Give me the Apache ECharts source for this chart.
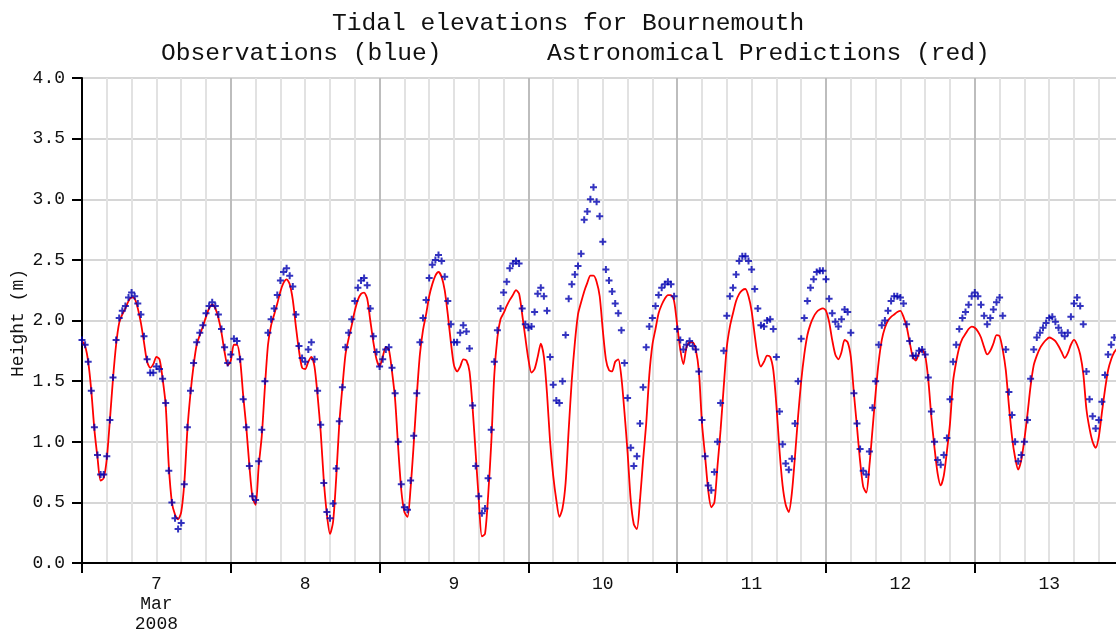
<!DOCTYPE html>
<html>
<head>
<meta charset="utf-8">
<script src="https://cdn.jsdelivr.net/npm/echarts@6/dist/echarts.min.js"></script>
<style>
html,body{margin:0;padding:0;background:#fff;overflow:hidden;}
#chart{width:1116px;height:635px;}
</style>
</head>
<body>
<div id="chart"></div>
<script>
// Hours are counted from 7 Mar 2008 00:00; both series are sampled every 30 minutes.
var stepHours = 0.5;
var dayLabels = ['7', '8', '9', '10', '11', '12', '13'];
var monthLabel = 'Mar';
var yearLabel = '2008';
var yTicks = [0, 0.5, 1, 1.5, 2, 2.5, 3, 3.5, 4];

// Observations (blue), 0h .. 166.5h
var observed = [
  1.84,1.80,1.66,1.42,1.12,0.89,0.73,0.73,0.88,1.18,1.53,1.84,2.02,2.08,2.12,2.19,2.23,2.20,2.14,2.05,1.87,1.68,1.57,1.57,
  1.62,1.60,1.52,1.32,0.76,0.50,0.37,0.28,0.33,0.65,1.12,1.42,1.65,1.82,1.90,1.96,2.06,2.12,2.15,2.12,2.05,1.93,1.78,1.65,
  1.72,1.85,1.83,1.68,1.35,1.12,0.80,0.55,0.52,0.84,1.10,1.50,1.90,2.01,2.10,2.21,2.33,2.40,2.43,2.37,2.28,2.05,1.79,1.69,
  1.66,1.76,1.82,1.68,1.42,1.14,0.66,0.42,0.37,0.49,0.78,1.17,1.45,1.78,1.90,2.01,2.16,2.27,2.33,2.35,2.29,2.10,1.87,1.74,
  1.62,1.68,1.76,1.78,1.61,1.40,1.00,0.65,0.46,0.44,0.68,1.05,1.40,1.82,2.02,2.17,2.35,2.46,2.50,2.54,2.49,2.36,2.16,1.97,
  1.82,1.82,1.90,1.96,1.91,1.77,1.30,0.80,0.55,0.41,0.45,0.70,1.10,1.66,1.92,2.10,2.23,2.32,2.43,2.47,2.49,2.47,2.10,1.97,
  1.94,1.95,2.07,2.22,2.27,2.20,2.08,1.70,1.47,1.34,1.32,1.50,1.88,2.18,2.30,2.38,2.45,2.55,2.83,2.90,3.00,3.10,2.98,2.86,
  2.65,2.42,2.33,2.24,2.14,2.06,1.92,1.65,1.36,0.95,0.80,0.88,1.15,1.45,1.78,1.95,2.02,2.12,2.21,2.27,2.30,2.32,2.30,2.20,
  1.93,1.84,1.76,1.80,1.83,1.79,1.76,1.58,1.18,0.88,0.64,0.60,0.75,1.00,1.32,1.75,2.04,2.20,2.27,2.38,2.49,2.53,2.53,2.49,
  2.42,2.26,2.10,1.96,1.95,2.00,2.01,1.93,1.70,1.25,0.98,0.82,0.77,0.86,1.15,1.50,1.85,2.02,2.16,2.27,2.34,2.40,2.41,2.41,
  2.34,2.18,2.06,1.99,1.95,2.01,2.09,2.07,1.90,1.40,1.15,0.94,0.76,0.73,0.92,1.28,1.50,1.80,1.96,2.00,2.08,2.16,2.20,2.20,
  2.19,2.14,1.97,1.83,1.71,1.71,1.75,1.76,1.72,1.53,1.25,1.00,0.85,0.81,0.89,1.03,1.35,1.66,1.80,1.93,2.02,2.07,2.13,2.20,
  2.23,2.20,2.13,2.04,1.97,2.02,2.09,2.15,2.19,2.04,1.76,1.41,1.22,1.00,0.84,0.89,1.00,1.18,1.52,1.76,1.86,1.90,1.94,1.98,
  2.02,2.03,1.99,1.94,1.90,1.87,1.90,2.03,2.14,2.19,2.12,1.97,1.58,1.35,1.21,1.11,1.18,1.33,1.55,1.72,1.80,1.86
];

// Astronomical predictions (red), 0h .. 167h
var predicted = [
  1.83,1.79,1.66,1.42,1.10,0.87,0.68,0.70,0.86,1.18,1.52,1.80,1.98,2.05,2.10,2.16,2.19,2.18,2.10,1.98,1.82,1.66,1.61,1.64,
  1.70,1.68,1.52,1.30,0.80,0.50,0.40,0.36,0.42,0.66,1.10,1.40,1.63,1.80,1.88,1.95,2.03,2.10,2.13,2.10,2.02,1.90,1.74,1.63,
  1.67,1.80,1.80,1.68,1.38,1.12,0.80,0.54,0.48,0.80,1.05,1.45,1.80,1.96,2.05,2.14,2.24,2.31,2.34,2.30,2.17,1.95,1.75,1.61,
  1.60,1.66,1.70,1.62,1.38,1.08,0.68,0.40,0.24,0.34,0.70,1.15,1.45,1.72,1.85,1.96,2.08,2.17,2.22,2.23,2.18,2.00,1.82,1.68,
  1.62,1.70,1.78,1.76,1.58,1.35,0.95,0.60,0.42,0.38,0.62,0.98,1.38,1.72,1.92,2.05,2.20,2.30,2.37,2.40,2.36,2.25,2.05,1.82,
  1.63,1.58,1.62,1.68,1.67,1.58,1.28,0.90,0.52,0.22,0.24,0.55,0.98,1.55,1.86,2.01,2.06,2.12,2.17,2.21,2.25,2.22,2.05,1.86,
  1.68,1.57,1.60,1.70,1.81,1.70,1.40,1.00,0.72,0.52,0.38,0.45,0.66,1.10,1.51,1.82,2.05,2.15,2.24,2.31,2.37,2.37,2.32,2.20,
  1.92,1.68,1.59,1.58,1.66,1.68,1.53,1.24,0.91,0.52,0.32,0.28,0.52,0.85,1.15,1.55,1.80,1.93,2.06,2.13,2.18,2.21,2.21,2.16,
  1.96,1.76,1.64,1.78,1.82,1.82,1.76,1.58,1.15,0.88,0.60,0.46,0.50,0.80,1.10,1.45,1.78,1.95,2.06,2.16,2.22,2.25,2.26,2.20,
  2.08,1.88,1.70,1.62,1.66,1.71,1.70,1.59,1.30,0.93,0.64,0.48,0.42,0.58,0.88,1.21,1.50,1.72,1.88,1.97,2.03,2.07,2.09,2.10,
  2.08,1.99,1.84,1.72,1.68,1.74,1.84,1.82,1.70,1.40,1.12,0.84,0.63,0.58,0.80,1.10,1.40,1.66,1.84,1.94,2.00,2.03,2.05,2.07,
  2.08,2.03,1.95,1.82,1.70,1.67,1.73,1.76,1.71,1.51,1.20,0.95,0.74,0.64,0.72,0.92,1.15,1.50,1.66,1.78,1.85,1.89,1.93,1.95,
  1.94,1.91,1.86,1.78,1.72,1.75,1.81,1.88,1.87,1.76,1.59,1.30,1.04,0.87,0.77,0.85,1.02,1.23,1.46,1.63,1.71,1.77,1.81,1.84,
  1.86,1.85,1.83,1.79,1.74,1.69,1.73,1.80,1.84,1.80,1.72,1.56,1.27,1.11,1.00,0.95,1.04,1.24,1.43,1.59,1.68,1.74,1.77
];

function toPairs(values) {
  return values.map(function (v, i) { return [i * stepHours, v]; });
}

var MONO = '"Liberation Mono", "DejaVu Sans Mono", monospace';
var chart = echarts.init(document.getElementById('chart'), null, {renderer: 'canvas'});

var option = {
  animation: false,
  backgroundColor: '#ffffff',
  grid: {left: 82, top: 78, width: 1041.6, bottom: 72, containLabel: false, outerBoundsMode: 'none'},
  graphic: [
    {type: 'text', left: 332, top: 11, style: {text: 'Tidal elevations for Bournemouth', font: '24.6px ' + MONO, fill: '#111'}},
    {type: 'text', left: 161, top: 41, style: {text: 'Observations (blue)', font: '24.6px ' + MONO, fill: '#111'}},
    {type: 'text', left: 547, top: 41, style: {text: 'Astronomical Predictions (red)', font: '24.6px ' + MONO, fill: '#111'}},
    {type: 'text', x: 18, y: 323, rotation: Math.PI / 2,
     style: {text: 'Height (m)', font: '18px ' + MONO, fill: '#111', textAlign: 'center', textVerticalAlign: 'middle'}}
  ],
  xAxis: [
    {
      type: 'value', min: 0, max: 168, interval: 24, position: 'bottom',
      axisLine: {show: true, onZero: false, lineStyle: {color: '#000', width: 2}},
      axisTick: {show: true, length: 10, lineStyle: {color: '#000', width: 2}},
      axisLabel: {show: false},
      splitLine: {show: true, lineStyle: {color: '#bdbdbd', width: 2}},
      minorTick: {show: false, splitNumber: 6},
      minorSplitLine: {show: true, lineStyle: {color: '#e2e2e2', width: 2}}
    },
    {
      type: 'value', min: 0, max: 168, interval: 12, position: 'bottom',
      axisLine: {show: false}, axisTick: {show: false}, splitLine: {show: false},
      axisLabel: {
        show: true, margin: 11, color: '#111', fontFamily: MONO, fontSize: 18, lineHeight: 20, align: 'center',
        formatter: function (v) {
          if (v % 24 !== 12) return '';
          var idx = (v - 12) / 24;
          var s = dayLabels[idx] || '';
          if (idx === 0) s += '\n' + monthLabel + '\n' + yearLabel;
          return s;
        }
      }
    }
  ],
  yAxis: {
    type: 'value', min: yTicks[0], max: yTicks[yTicks.length - 1], interval: yTicks[1] - yTicks[0],
    axisLine: {show: true, lineStyle: {color: '#000', width: 2}},
    axisTick: {show: true, length: 10, lineStyle: {color: '#000', width: 2}},
    axisLabel: {margin: 17, color: '#111', fontFamily: MONO, fontSize: 18,
      formatter: function (v) { return v.toFixed(1); }},
    splitLine: {show: true, lineStyle: {color: '#d6d6d6', width: 2}}
  },
  series: [
    {
      name: 'Astronomical Predictions', type: 'line', xAxisIndex: 0,
      data: toPairs(predicted), showSymbol: false, smooth: 0.25,
      lineStyle: {color: '#ff0000', width: 1.8}, z: 2
    },
    {
      name: 'Observations', type: 'scatter', xAxisIndex: 0,
      data: toPairs(observed),
      symbol: 'path://M2.5,0H4.5V2.5H7V4.5H4.5V7H2.5V4.5H0V2.5H2.5Z', symbolSize: 7,
      itemStyle: {color: '#0000b0'}, z: 3
    }
  ]
};
chart.setOption(option);
</script>
</body>
</html>
